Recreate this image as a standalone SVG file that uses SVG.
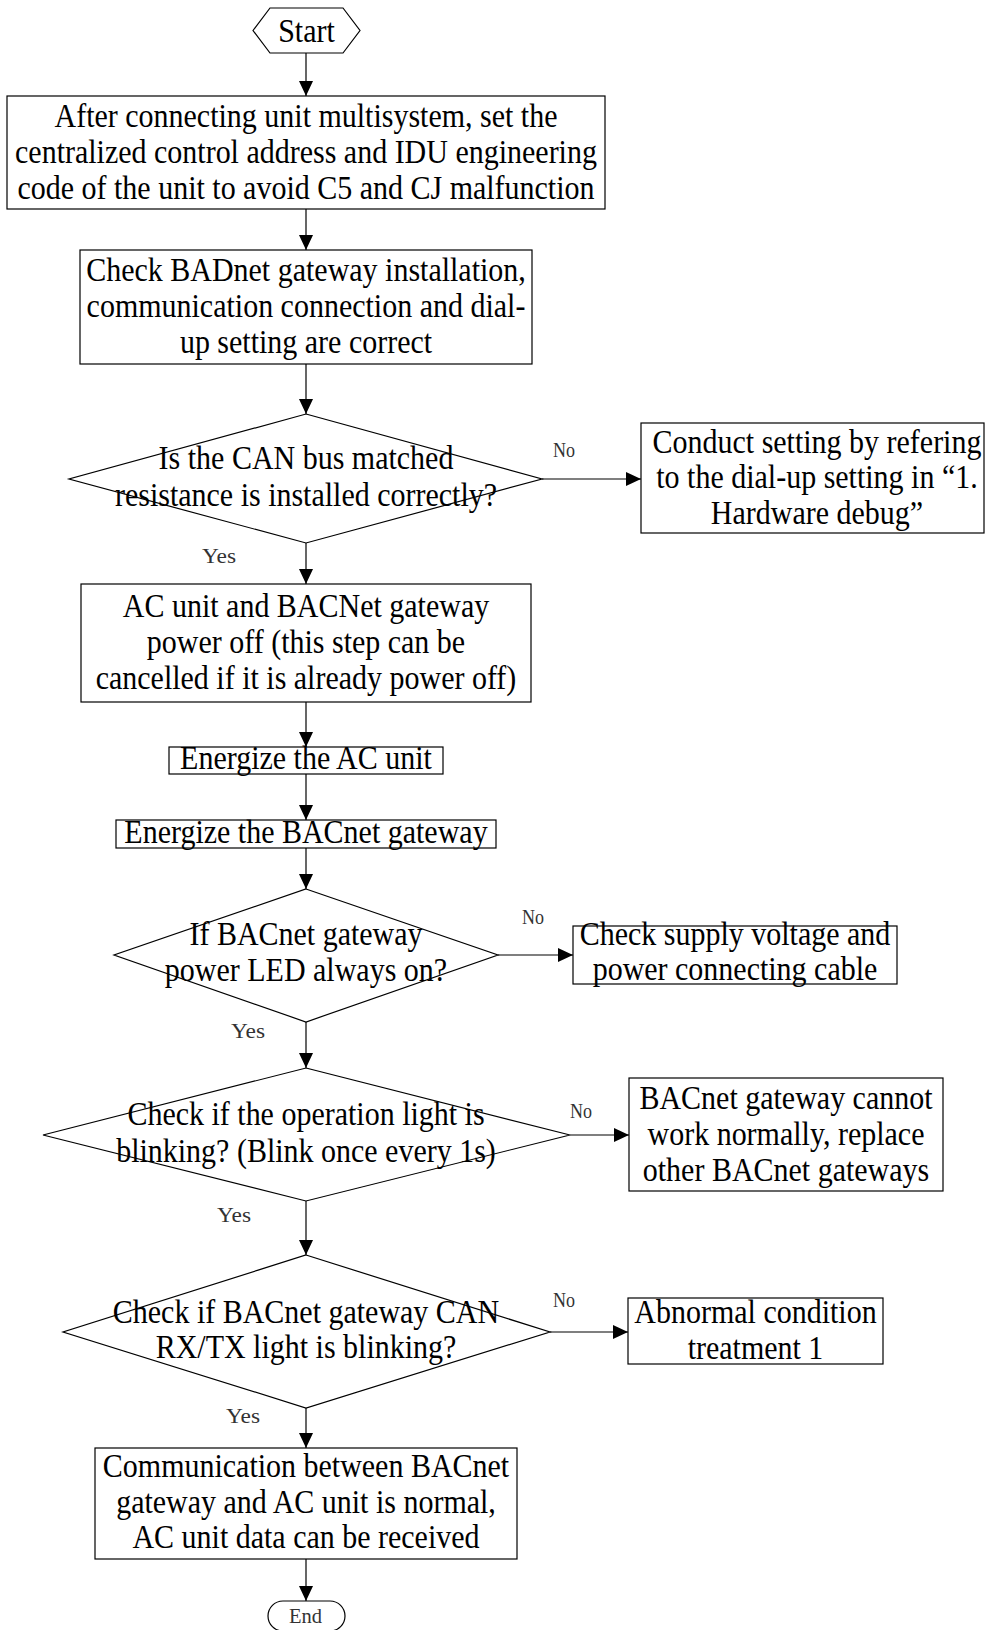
<svg xmlns="http://www.w3.org/2000/svg" width="985" height="1630" viewBox="0 0 985 1630">
  <defs>
    <marker id="arrow" markerUnits="userSpaceOnUse" markerWidth="16" markerHeight="16" viewBox="0 0 16 16" refX="15" refY="8" orient="auto">
      <path d="M0,1 L15,8 L0,15 z" fill="#000"/>
    </marker>
  </defs>
  <style>
    .shape{fill:#fff;stroke:#000;stroke-width:1.2}
    .t{font-family:"Liberation Serif","Times New Roman",serif;font-size:30px;fill:#000;text-anchor:middle}
    .lbl{font-family:"Liberation Serif","Times New Roman",serif;font-size:21px;fill:#333}
    .conn{stroke:#000;stroke-width:1.2;fill:none;marker-end:url(#arrow)}
  </style>
  <rect width="985" height="1630" fill="#fff"/>

  <!-- connectors; each text line is stretched 10% vertically about its own baseline -->
  <g id="connectors">
    <line class="conn" x1="306" y1="53" x2="306" y2="96"/>
    <line class="conn" x1="306" y1="209" x2="306" y2="250"/>
    <line class="conn" x1="306" y1="364" x2="306" y2="414"/>
    <line class="conn" x1="306" y1="543" x2="306" y2="584"/>
    <line class="conn" x1="306" y1="702" x2="306" y2="747"/>
    <line class="conn" x1="306" y1="774" x2="306" y2="820"/>
    <line class="conn" x1="306" y1="848" x2="306" y2="889"/>
    <line class="conn" x1="306" y1="1022" x2="306" y2="1068"/>
    <line class="conn" x1="306" y1="1201" x2="306" y2="1255"/>
    <line class="conn" x1="306" y1="1408" x2="306" y2="1448"/>
    <line class="conn" x1="306" y1="1559" x2="306" y2="1601"/>
    <line class="conn" x1="542" y1="479" x2="641" y2="479"/>
    <line class="conn" x1="498" y1="955" x2="573" y2="955"/>
    <line class="conn" x1="570" y1="1135" x2="629" y2="1135"/>
    <line class="conn" x1="550" y1="1332" x2="628" y2="1332"/>
    <text class="lbl" x="553" y="457" textLength="22" lengthAdjust="spacingAndGlyphs">No</text>
    <text class="lbl" x="202" y="563" textLength="34" lengthAdjust="spacingAndGlyphs">Yes</text>
    <text class="lbl" x="522" y="924" textLength="22" lengthAdjust="spacingAndGlyphs">No</text>
    <text class="lbl" x="231" y="1038" textLength="34" lengthAdjust="spacingAndGlyphs">Yes</text>
    <text class="lbl" x="570" y="1118" textLength="22" lengthAdjust="spacingAndGlyphs">No</text>
    <text class="lbl" x="217" y="1222" textLength="34" lengthAdjust="spacingAndGlyphs">Yes</text>
    <text class="lbl" x="553" y="1307" textLength="22" lengthAdjust="spacingAndGlyphs">No</text>
    <text class="lbl" x="226" y="1423" textLength="34" lengthAdjust="spacingAndGlyphs">Yes</text>
  </g>

  <g id="start">
    <polygon class="shape" points="253,30.5 270,8 343,8 360,30.5 343,53 270,53"/>
    <text class="t" x="306.5" y="42" transform="matrix(1 0 0 1.1 0 -4.2)">Start</text>
  </g>

  <g id="set-address">
    <rect class="shape" x="7" y="96" width="598" height="113"/>
    <text class="t" x="306" y="127" transform="matrix(1 0 0 1.1 0 -12.7)">After connecting unit multisystem, set the</text>
    <text class="t" x="306" y="163" transform="matrix(1 0 0 1.1 0 -16.3)">centralized control address and IDU engineering</text>
    <text class="t" x="306" y="199" transform="matrix(1 0 0 1.1 0 -19.9)">code of the unit to avoid C5 and CJ malfunction</text>
  </g>

  <g id="check-installation">
    <rect class="shape" x="80" y="250" width="452" height="114"/>
    <text class="t" x="306" y="281" transform="matrix(1 0 0 1.1 0 -28.1)">Check BADnet gateway installation,</text>
    <text class="t" x="306" y="317" transform="matrix(1 0 0 1.1 0 -31.7)">communication connection and dial-</text>
    <text class="t" x="306" y="353" transform="matrix(1 0 0 1.1 0 -35.3)">up setting are correct</text>
  </g>

  <g id="can-resistance">
    <polygon class="shape" points="306,414 542,479 306,543 69,479"/>
    <text class="t" x="306" y="469" transform="matrix(1 0 0 1.1 0 -46.9)">Is the CAN bus matched</text>
    <text class="t" x="306" y="506" transform="matrix(1 0 0 1.1 0 -50.6)">resistance is installed correctly?</text>
  </g>

  <g id="dialup-setting">
    <rect class="shape" x="641" y="423" width="343" height="110"/>
    <text class="t" x="817" y="453" transform="matrix(1 0 0 1.1 0 -45.3)">Conduct setting by refering</text>
    <text class="t" x="817" y="488" transform="matrix(1 0 0 1.1 0 -48.8)">to the dial-up setting in “1.</text>
    <text class="t" x="817" y="524" transform="matrix(1 0 0 1.1 0 -52.4)">Hardware debug”</text>
  </g>

  <g id="power-off">
    <rect class="shape" x="81" y="584" width="450" height="118"/>
    <text class="t" x="306" y="617" transform="matrix(1 0 0 1.1 0 -61.7)">AC unit and BACNet gateway</text>
    <text class="t" x="306" y="653" transform="matrix(1 0 0 1.1 0 -65.3)">power off (this step can be</text>
    <text class="t" x="306" y="689" transform="matrix(1 0 0 1.1 0 -68.9)">cancelled if it is already power off)</text>
  </g>

  <g id="energize-ac">
    <rect class="shape" x="169" y="747" width="274" height="27"/>
    <text class="t" x="306" y="769" transform="matrix(1 0 0 1.1 0 -76.9)">Energize the AC unit</text>
  </g>

  <g id="energize-gateway">
    <rect class="shape" x="116" y="820" width="380" height="28"/>
    <text class="t" x="306" y="843" transform="matrix(1 0 0 1.1 0 -84.3)">Energize the BACnet gateway</text>
  </g>

  <g id="power-led">
    <polygon class="shape" points="306,889 498,955 306,1022 114,955"/>
    <text class="t" x="306" y="945" transform="matrix(1 0 0 1.1 0 -94.5)">If BACnet gateway</text>
    <text class="t" x="306" y="981" transform="matrix(1 0 0 1.1 0 -98.1)">power LED always on?</text>
  </g>

  <g id="check-supply">
    <rect class="shape" x="573" y="926" width="324" height="58"/>
    <text class="t" x="735" y="945" transform="matrix(1 0 0 1.1 0 -94.5)">Check supply voltage and</text>
    <text class="t" x="735" y="980" transform="matrix(1 0 0 1.1 0 -98)">power connecting cable</text>
  </g>

  <g id="operation-light">
    <polygon class="shape" points="306,1068 570,1135 306,1201 43,1135"/>
    <text class="t" x="306" y="1125" transform="matrix(1 0 0 1.1 0 -112.5)">Check if the operation light is</text>
    <text class="t" x="306" y="1162" transform="matrix(1 0 0 1.1 0 -116.2)">blinking? (Blink once every 1s)</text>
  </g>

  <g id="replace-gateway">
    <rect class="shape" x="629" y="1078" width="314" height="113"/>
    <text class="t" x="786" y="1109" transform="matrix(1 0 0 1.1 0 -110.9)">BACnet gateway cannot</text>
    <text class="t" x="786" y="1145" transform="matrix(1 0 0 1.1 0 -114.5)">work normally, replace</text>
    <text class="t" x="786" y="1181" transform="matrix(1 0 0 1.1 0 -118.1)">other BACnet gateways</text>
  </g>

  <g id="can-light">
    <polygon class="shape" points="306,1255 550,1332 306,1408 63,1332"/>
    <text class="t" x="306" y="1323" transform="matrix(1 0 0 1.1 0 -132.3)">Check if BACnet gateway CAN</text>
    <text class="t" x="306" y="1358" transform="matrix(1 0 0 1.1 0 -135.8)">RX/TX light is blinking?</text>
  </g>

  <g id="abnormal">
    <rect class="shape" x="628" y="1298" width="255" height="66"/>
    <text class="t" x="755.5" y="1323" transform="matrix(1 0 0 1.1 0 -132.3)">Abnormal condition</text>
    <text class="t" x="755.5" y="1359" transform="matrix(1 0 0 1.1 0 -135.9)">treatment 1</text>
  </g>

  <g id="normal">
    <rect class="shape" x="95" y="1448" width="422" height="111"/>
    <text class="t" x="306" y="1477" transform="matrix(1 0 0 1.1 0 -147.7)">Communication between BACnet</text>
    <text class="t" x="306" y="1513" transform="matrix(1 0 0 1.1 0 -151.3)">gateway and AC unit is normal,</text>
    <text class="t" x="306" y="1548" transform="matrix(1 0 0 1.1 0 -154.8)">AC unit data can be received</text>
  </g>

  <g id="end">
    <rect class="shape" x="268" y="1601" width="77" height="30" rx="15"/>
    <text class="lbl" x="289" y="1623" textLength="33" lengthAdjust="spacingAndGlyphs">End</text>
  </g>
</svg>
